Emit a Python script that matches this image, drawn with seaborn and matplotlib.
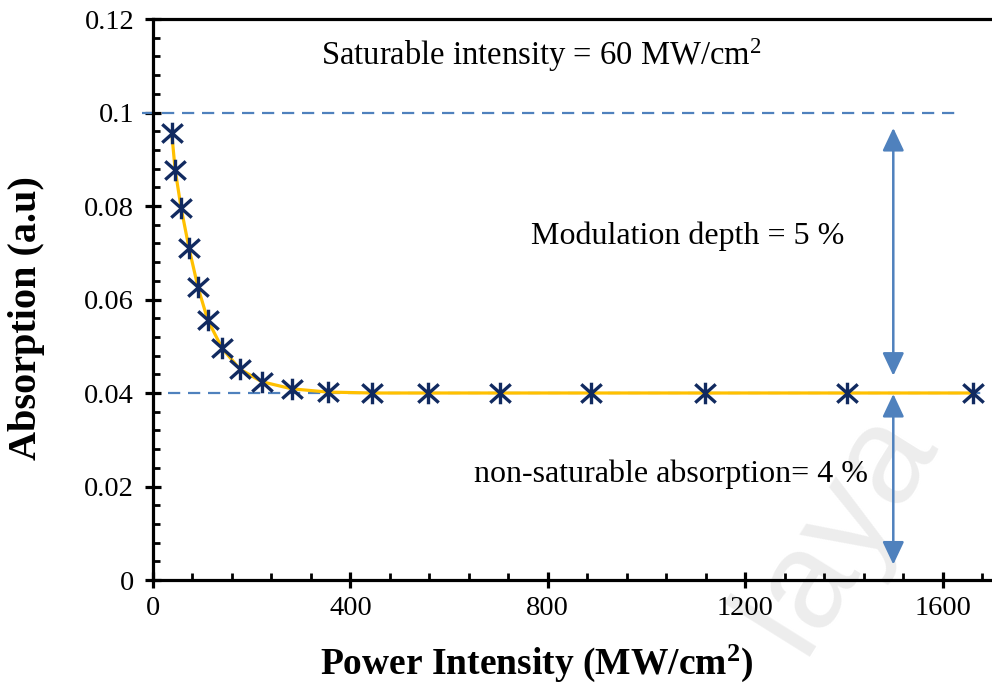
import numpy as np
import pandas as pd
import matplotlib
matplotlib.use("Agg")
import matplotlib.pyplot as plt
from matplotlib.path import Path
from matplotlib.ticker import MultipleLocator, FuncFormatter
import seaborn as sns

# ---- data ----
intensity = [38, 45, 57, 73, 91, 111, 140, 176, 221, 281, 354, 444, 557, 703, 887, 1118, 1406, 1661]
absorption = [0.0956, 0.0877, 0.0796, 0.0710, 0.0627, 0.0556, 0.0496, 0.0451, 0.0424,
              0.0409, 0.0402, 0.0400, 0.0400, 0.0400, 0.0400, 0.0400, 0.0400, 0.0400]
sat_level = 0.1
nonsat_level = 0.04
x_ticks = [0, 400, 800, 1200, 1600]
y_ticks = [0, 0.02, 0.04, 0.06, 0.08, 0.1, 0.12]

df = pd.DataFrame({"I": intensity, "A": absorption})

sns.set_theme(style="white")
plt.rcParams["font.family"] = ["Liberation Serif", "DejaVu Serif"]
plt.rcParams["mathtext.fontset"] = "custom"
plt.rcParams["mathtext.rm"] = "Liberation Serif"
plt.rcParams["mathtext.it"] = "Liberation Serif:italic"
plt.rcParams["mathtext.bf"] = "Liberation Serif:bold"
plt.rcParams["text.color"] = "black"
plt.rcParams["axes.labelcolor"] = "black"
plt.rcParams["xtick.color"] = "black"
plt.rcParams["ytick.color"] = "black"

fig = plt.figure(figsize=(9.92, 6.89), dpi=100)
ax = fig.add_axes([0.1542, 0.1582, 0.8458, 0.8142])

blue = "#4F81BD"
gold = "#FFC000"
navy = "#112A60"

# watermark (behind everything)
ax.text(0.845, 0.232, "laya", transform=fig.transFigure, fontsize=100, rotation=58,
        color="#ededed", ha="center", va="center", family=["Liberation Sans", "DejaVu Sans"],
        zorder=0, clip_on=False)

# dashed reference lines
ax.plot([-22, 1628], [sat_level, sat_level], color=blue, lw=1.6, dashes=(5.5, 3.5), clip_on=False, zorder=1)
ax.plot([30, 1690], [nonsat_level, nonsat_level], color=blue, lw=1.6, dashes=(5.5, 3.5), zorder=1)

# fit line
sns.lineplot(data=df, x="I", y="A", color=gold, lw=2.3, ax=ax, zorder=2, sort=True)

# star markers (X with vertical bar)
verts = [(0, -1), (0, 1), (-0.95, -0.85), (0.95, 0.85), (-0.95, 0.85), (0.95, -0.85)]
codes = [Path.MOVETO, Path.LINETO, Path.MOVETO, Path.LINETO, Path.MOVETO, Path.LINETO]
star = Path(verts, codes)
sns.lineplot(data=df, x="I", y="A", linestyle="none", marker=star, markersize=15.5,
             markerfacecolor="none", markeredgecolor=navy, markeredgewidth=2.4,
             ax=ax, zorder=3)

# arrows
arrow_kw = dict(arrowstyle="<|-|>,head_length=0.7,head_width=0.33", color=blue, lw=1.8,
                shrinkA=0, shrinkB=0, mutation_scale=20)
ax.annotate("", xy=(1500, 0.0967), xytext=(1500, 0.0437), arrowprops=arrow_kw, zorder=2)
ax.annotate("", xy=(1500, 0.0398), xytext=(1500, 0.0033), arrowprops=arrow_kw, zorder=2)

# texts
ax.text(786, 0.1102, "Saturable intensity = 60 MW/cm$^{2}$", fontsize=23.5, ha="center", va="baseline", zorder=4)
ax.text(1084, 0.0719, "Modulation depth = 5 %", fontsize=23, ha="center", va="baseline", zorder=4)
ax.text(1050, 0.0210, "non-saturable absorption= 4 %", fontsize=23, ha="center", va="baseline", zorder=4)

ax.set_xlim(0, 1700)
ax.set_ylim(0, 0.12)
ax.set_xticks(x_ticks)
ax.set_yticks(y_ticks)
ax.xaxis.set_minor_locator(MultipleLocator(80))
ax.yaxis.set_minor_locator(MultipleLocator(0.004))
ax.yaxis.set_major_formatter(FuncFormatter(lambda v, p: f"{v:g}"))

for s in ["left", "bottom", "top"]:
    ax.spines[s].set_visible(True)
    ax.spines[s].set_color("black")
    ax.spines[s].set_linewidth(2.3)
ax.spines["right"].set_visible(False)

ax.tick_params(which="major", direction="inout", length=11, width=2.3, color="black",
               labelcolor="black", labelsize=20.5, pad=6, left=True, bottom=True)
ax.tick_params(which="minor", direction="in", length=5, width=2.0, color="black", left=True, bottom=True)
ax.tick_params(axis="y", pad=8)

ax.set_xlabel("Power Intensity (MW/cm$^{\\mathbf{2}}$)", fontsize=27, fontweight="bold", color="black")
ax.set_ylabel("Absorption (a.u)", fontsize=29, fontweight="bold", color="black")
ax.xaxis.set_label_coords(0.457, -0.112)
ax.yaxis.set_label_coords(-0.129, 0.467)
ax.set_facecolor("none")
ax.grid(False)

fig.savefig("out.png", dpi=100)
